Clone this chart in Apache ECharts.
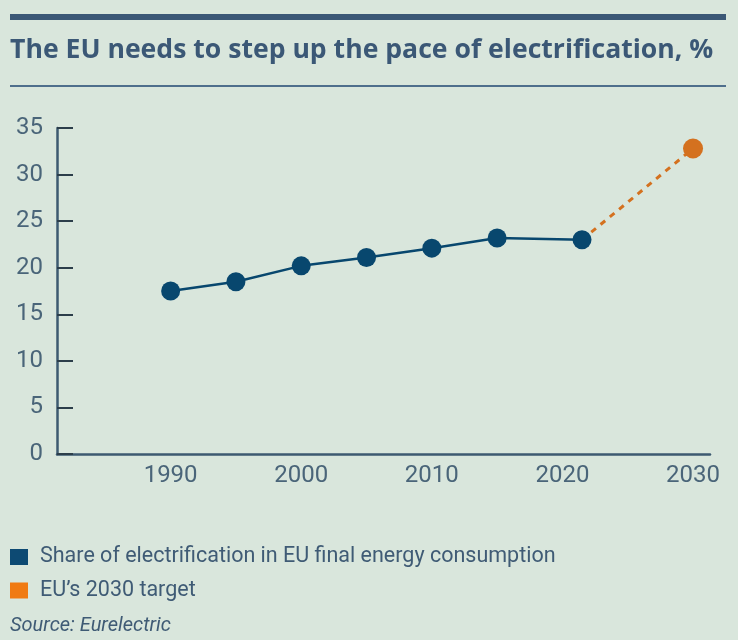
<!DOCTYPE html>
<html>
<head>
<meta charset="utf-8">
<script src="https://cdn.jsdelivr.net/npm/echarts@6/dist/echarts.min.js"></script>
<style>
  html, body { margin: 0; padding: 0; background: #d9e6dc; }
  #main { width: 738px; height: 640px; }
</style>
</head>
<body>
<div id="main"></div>
<script>
// data
var years = [1990, 1995, 2000, 2005, 2010, 2015, 2021.5];
var share = [17.5, 18.5, 20.2, 21.1, 22.1, 23.2, 23.0];
var targetYears = [2021.5, 2030];
var targetValues = [23.0, 32.8];
var yearLabels = [1990, 2000, 2010, 2020, 2030];
var seriesNames = ['Share of electrification in EU final energy consumption', 'EU\u2019s 2030 target'];

var textColor = '#3f5b75';
var navy = '#08476e';
var orange = '#d4711f';

var myChart = echarts.init(document.getElementById('main'));

var shareData = years.map(function (y, i) { return [y, share[i]]; });
var targetData = targetYears.map(function (y, i) {
  var item = { value: [y, targetValues[i]] };
  if (i === 0) item.symbol = 'none';
  return item;
});

var option = {
  backgroundColor: '#d9e6dc',
  textStyle: { fontFamily: 'Roboto' },
  title: {
    text: 'The EU needs to step up the pace of electrification, %',
    left: 5,
    top: 32,
    textStyle: { fontSize: 26.6, fontWeight: 'bold', color: '#3b5876', fontFamily: 'Open Sans' }
  },
  graphic: [
    { type: 'rect', shape: { x: 10, y: 14, width: 716, height: 6 }, style: { fill: '#3b5876' } },
    { type: 'rect', shape: { x: 10, y: 85, width: 716, height: 2 }, style: { fill: '#4f6f8c' } },
    {
      type: 'text', left: 10, top: 616,
      style: { text: 'Source: Eurelectric', fontSize: 20, fontStyle: 'italic', fill: textColor, fontFamily: 'Roboto' }
    }
  ],
  legend: {
    orient: 'vertical',
    left: 10,
    top: 546,
    padding: 0,
    icon: 'rect',
    itemWidth: 18,
    itemHeight: 16,
    itemGap: 11.5,
    textStyle: { fontSize: 21.5, color: textColor, padding: [0, 0, 0, 7] },
    data: [
      { name: seriesNames[0], itemStyle: { color: '#0d4a73' } },
      { name: seriesNames[1], itemStyle: { color: '#f07a12' } }
    ]
  },
  grid: { left: 57, right: 28, top: 128, bottom: 186 },
  xAxis: {
    type: 'value',
    min: 1981.3,
    max: 2031.3,
    splitLine: { show: false },
    axisLine: { lineStyle: { color: '#3d5a70', width: 2.5 } },
    axisTick: { show: false },
    axisLabel: {
      customValues: yearLabels,
      fontSize: 24,
      color: '#4a6579',
      margin: 10,
      formatter: function (v) { return String(v); }
    }
  },
  yAxis: {
    type: 'value',
    min: 0,
    max: 35,
    interval: 5,
    splitLine: { show: false },
    axisLine: { show: true, lineStyle: { color: '#3d5a70', width: 2.5 } },
    axisTick: { show: true, inside: true, length: 16, lineStyle: { color: '#2c3e4a', width: 2 } },
    axisLabel: { fontSize: 24, color: '#4a6579', margin: 14 }
  },
  series: [
    {
      name: seriesNames[1],
      type: 'line',
      data: targetData,
      symbol: 'circle',
      symbolSize: 20,
      lineStyle: { color: orange, width: 3, type: [6, 6] },
      itemStyle: { color: orange },
      z: 1
    },
    {
      name: seriesNames[0],
      type: 'line',
      data: shareData,
      symbol: 'circle',
      symbolSize: 19,
      lineStyle: { color: navy, width: 2.5 },
      itemStyle: { color: navy },
      z: 2
    }
  ]
};

myChart.setOption(option);
</script>
</body>
</html>
